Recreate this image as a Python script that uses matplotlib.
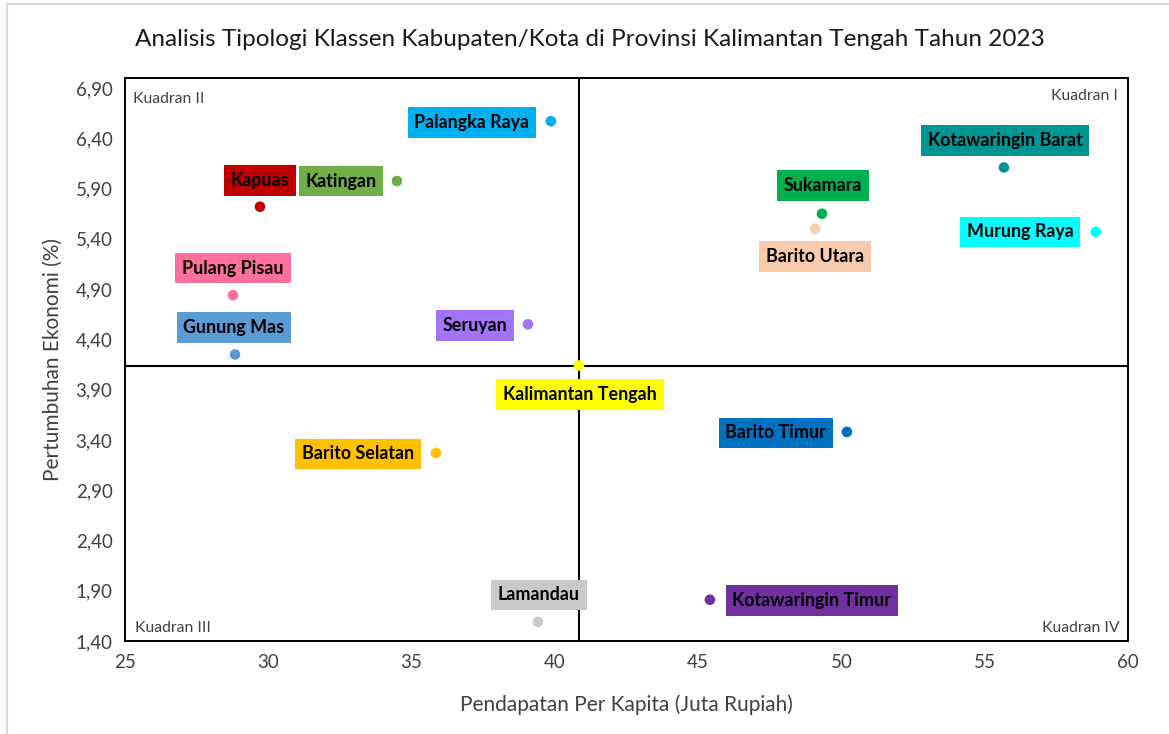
import matplotlib
matplotlib.use("Agg")
import matplotlib.pyplot as plt
from matplotlib.lines import Line2D
from matplotlib.ticker import FixedLocator, FuncFormatter

plt.rcParams['font.family'] = ['Lato', 'DejaVu Sans']

# ---- data ----
regions = ["Palangka Raya", "Kapuas", "Katingan", "Pulang Pisau", "Gunung Mas",
           "Seruyan", "Kalimantan Tengah", "Barito Selatan", "Lamandau",
           "Kotawaringin Timur", "Barito Timur", "Barito Utara", "Sukamara",
           "Kotawaringin Barat", "Murung Raya"]
income = [39.86, 29.71, 34.49, 28.77, 28.84, 39.06, 40.84, 35.85, 39.41,
          45.41, 50.19, 49.08, 49.32, 55.67, 58.88]
growth = [6.57, 5.72, 5.975, 4.84, 4.25, 4.55, 4.14, 3.27, 1.59,
          1.81, 3.48, 5.50, 5.65, 6.11, 5.47]
colors = ["#00B0F0", "#C00000", "#70AD47", "#FF6F9C", "#5B9BD5",
          "#A374F5", "#FFFF00", "#FFC000", "#C9C9C9",
          "#7030A0", "#0070C0", "#F8CBAD", "#00B050",
          "#009593", "#00FFFF"]
x_ticks = [25, 30, 35, 40, 45, 50, 55, 60]
y_ticks = [1.40, 1.90, 2.40, 2.90, 3.40, 3.90, 4.40, 4.90, 5.40, 5.90, 6.40, 6.90]
ref_x = 40.84
ref_y = 4.14

# ---- layout (label offsets in pixels: dx right, dy up) ----
label_offsets = [(-79, -1), (0, 26), (-56, 0), (0, 27), (-1, 27),
                 (-53, -1), (1, -29), (-78, -1), (1, 27),
                 (102, -1), (-71, -1), (0, -28), (1, 28),
                 (1, 27), (-76, 0)]

W, H = 1169, 734
fig = plt.figure(figsize=(W / 100, H / 100), dpi=100)
ax = fig.add_axes([125 / W, 1 - 641 / H, (1128 - 125) / W, (641 - 78) / H])

ax.set_xlim(25, 60)
ax.set_ylim(1.40, 7.0)
ax.xaxis.set_major_locator(FixedLocator(x_ticks))
ax.yaxis.set_major_locator(FixedLocator(y_ticks))
ax.yaxis.set_major_formatter(FuncFormatter(lambda v, p: f"{v:.2f}".replace(".", ",")))
ax.tick_params(length=0, labelsize=13.5, colors="#404040", pad=9)
for s in ax.spines.values():
    s.set_linewidth(1.4)
    s.set_color("black")

ax.axvline(ref_x, color="black", lw=1.5, zorder=2)
ax.axhline(ref_y, color="black", lw=1.5, zorder=2)

ax.scatter(income, growth, s=58, c=colors, zorder=4, linewidths=0)

for name, xv, yv, col, (dx, dy) in zip(regions, income, growth, colors, label_offsets):
    ax.annotate(name, (xv, yv), xytext=(dx * 0.72, dy * 0.72), textcoords="offset points",
                ha="center", va="center", fontsize=12.9, fontweight="bold", color="black",
                bbox=dict(boxstyle="square,pad=0.38", fc=col, ec="none"), zorder=5)

qkw = dict(fontsize=11.3, color="#404040")
ax.text(0.008, 0.975, "Kuadran II", transform=ax.transAxes, ha="left", va="top", **qkw)
ax.text(0.99, 0.98, "Kuadran I", transform=ax.transAxes, ha="right", va="top", **qkw)
ax.text(0.01, 0.01, "Kuadran III", transform=ax.transAxes, ha="left", va="bottom", **qkw)
ax.text(0.992, 0.01, "Kuadran IV", transform=ax.transAxes, ha="right", va="bottom", **qkw)

ax.set_xlabel("Pendapatan Per Kapita (Juta Rupiah)", fontsize=15, color="#404040", labelpad=17)
ax.set_ylabel("Pertumbuhan Ekonomi (%)", fontsize=15, color="#404040", labelpad=9)
fig.text(590 / W, 1 - 40 / H, "Analisis Tipologi Klassen Kabupaten/Kota di Provinsi Kalimantan Tengah Tahun 2023",
         ha="center", va="center", fontsize=17.5, color="#1a1a1a")

# outer chart border (light gray)
fig.add_artist(Line2D([7 / W, 7 / W], [0, 1 - 4 / H], transform=fig.transFigure, color="#D9D9D9", lw=1.5))
fig.add_artist(Line2D([7 / W, 1], [1 - 4 / H, 1 - 4 / H], transform=fig.transFigure, color="#D9D9D9", lw=1.5))

fig.savefig("out.png", dpi=100)
